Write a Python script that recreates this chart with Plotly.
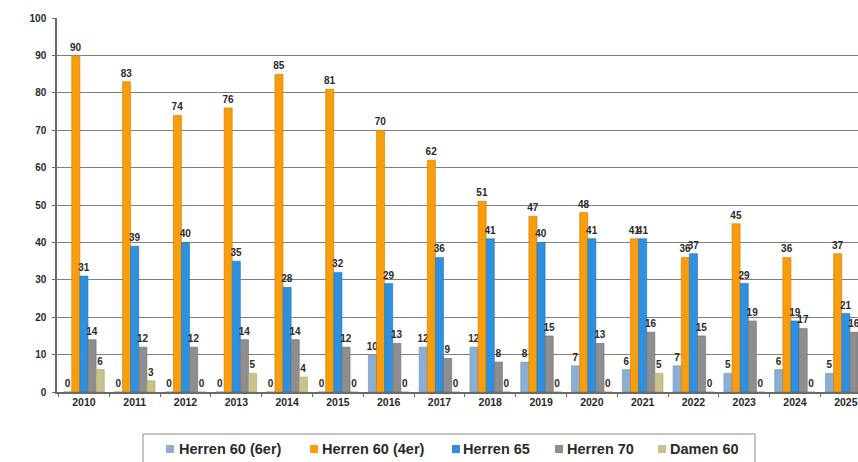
import plotly.graph_objects as go

years = ["2010", "2011", "2012", "2013", "2014", "2015", "2016", "2017",
         "2018", "2019", "2020", "2021", "2022", "2023", "2024", "2025"]
herren60_6er = [0, 0, 0, 0, 0, 0, 10, 12, 12, 8, 7, 6, 7, 5, 6, 5]
herren60_4er = [90, 83, 74, 76, 85, 81, 70, 62, 51, 47, 48, 41, 36, 45, 36, 37]
herren65 = [31, 39, 40, 35, 28, 32, 29, 36, 41, 40, 41, 41, 37, 29, 19, 21]
herren70 = [14, 12, 12, 14, 14, 12, 13, 9, 8, 15, 13, 16, 15, 19, 17, 16]
damen60 = [6, 3, 0, 5, 4, 0, 0, 0, 0, 0, 0, 5, 0, 0, 0, 0]

series_names = ["Herren 60 (6er)", "Herren 60 (4er)", "Herren 65", "Herren 70", "Damen 60"]
series_values = [herren60_6er, herren60_4er, herren65, herren70, damen60]
series_colors = ["#8AAFD3", "#F99D0C", "#2E90DE", "#8E8E8E", "#C9C28C"]
series_edges = ["#6F93B8", "#C97E0A", "#2275B8", "#6E6E6E", "#A9A26E"]

font_family = "Liberation Sans, Arial, sans-serif"

W, H = 858, 462
ML, MR, MT, MB = 57, 0, 18, 70
PW, PH = W - ML - MR, H - MT - MB


def px_x(px):
    return (px - ML) / PW


def px_y(py):
    return (H - MB - py) / PH


fig = go.Figure()
for name, vals, col, edge in zip(series_names, series_values, series_colors, series_edges):
    fig.add_trace(go.Bar(
        x=years, y=vals, name=name,
        marker=dict(color=col, line=dict(color=edge, width=0.6)),
        text=[str(v) for v in vals],
        textposition="outside",
        constraintext="none",
        cliponaxis=False,
        textfont=dict(family=font_family, size=10, color="#2a2a2a", weight="bold"),
        showlegend=False,
    ))

# custom legend (box, swatches, labels)
legend_box = (143, 434, 755, 480)
swatch_left = [166, 310, 452, 555, 658]
label_left = [177, 320, 461, 565, 668]
legend_cy = 449
shapes = [dict(type="rect", xref="paper", yref="paper",
               x0=px_x(legend_box[0]), x1=px_x(legend_box[2]),
               y0=px_y(legend_box[1]), y1=px_y(legend_box[3]),
               line=dict(color="#8a8a8a", width=1), fillcolor="white", layer="above")]
annotations = []
for name, col, sx, lx in zip(series_names, series_colors, swatch_left, label_left):
    shapes.append(dict(type="rect", xref="paper", yref="paper",
                       x0=px_x(sx), x1=px_x(sx + 8),
                       y0=px_y(legend_cy + 4), y1=px_y(legend_cy - 4),
                       line=dict(width=0), fillcolor=col, layer="above"))
    annotations.append(dict(xref="paper", yref="paper", x=px_x(lx), y=px_y(legend_cy),
                            xanchor="left", yanchor="middle", showarrow=False,
                            text=name,
                            font=dict(family=font_family, size=14.5, color="#2a2a2a", weight="bold")))

fig.update_layout(
    width=W, height=H,
    margin=dict(l=ML, r=MR, t=MT, b=MB),
    paper_bgcolor="white", plot_bgcolor="white",
    barmode="group", bargap=0.2, bargroupgap=0,
    font=dict(family=font_family, color="#2a2a2a"),
    showlegend=False,
    shapes=shapes,
    annotations=annotations,
    xaxis=dict(
        type="category", range=[-0.53, 15.24], automargin=False,
        showline=True, linecolor="#6a6a6a", linewidth=1.5,
        ticks="outside", tickson="boundaries", ticklen=3, tickcolor="#6a6a6a",
        tickfont=dict(family=font_family, size=10.5, color="#2a2a2a", weight="bold"),
        showgrid=False, fixedrange=True,
    ),
    yaxis=dict(
        range=[0, 100.05], dtick=10, tick0=0, automargin=False,
        showline=True, linecolor="#6a6a6a", linewidth=1.5,
        ticks="outside", ticklen=3, tickcolor="#6a6a6a",
        showgrid=True, gridcolor="#7f7f7f", gridwidth=1.4,
        zeroline=False,
        tickfont=dict(family=font_family, size=10, color="#2a2a2a", weight="bold"),
        ticklabelstandoff=4, fixedrange=True,
    ),
)

fig.write_html(
    "out.html",
    config={"displayModeBar": False},
    post_script="document.body.style.margin='0px';document.body.style.overflow='hidden';",
)
